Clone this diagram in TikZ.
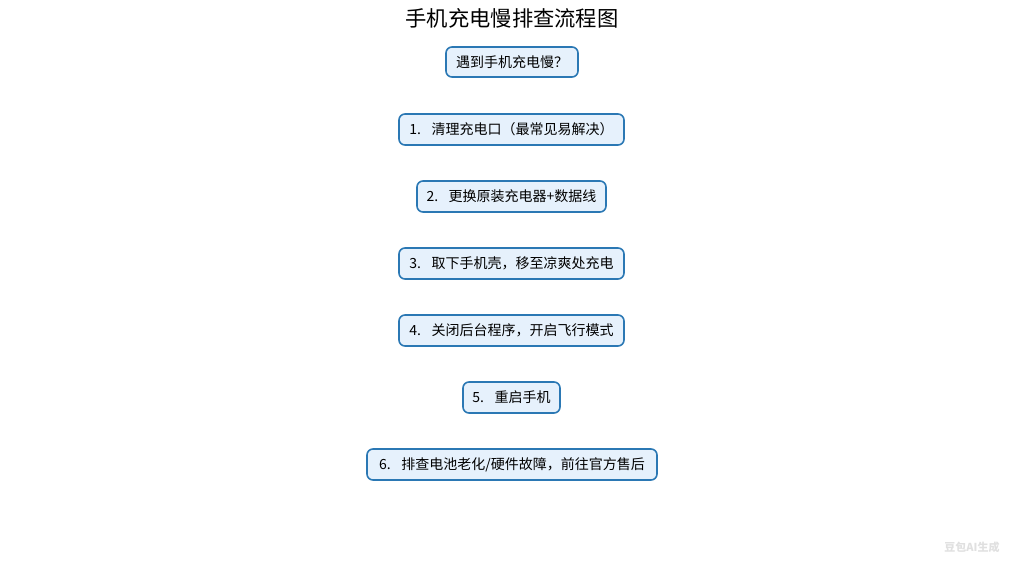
\documentclass[tikz,border=0pt]{standalone}
\usepackage{fontspec}
\setmainfont{Noto Sans CJK SC}
\begin{document}
\begin{tikzpicture}[x=1pt,y=1pt,
  stepbox/.style={draw=boxblue, line width=1.6pt, fill=boxfill, rounded corners=6pt,
    minimum height=31pt, inner sep=0pt, font=\fontsize{14}{16}\selectfont, text=black},
  ttl/.style={font=\fontsize{21.3}{25}\selectfont, text=black}]
\definecolor{boxblue}{HTML}{2B78B4}
\definecolor{boxfill}{HTML}{E6F1FC}
\useasboundingbox (0,0) rectangle (1024,-572);
\node[ttl] (title) at (512,-18) {手机充电慢排查流程图};
\node[stepbox, minimum width=132pt, minimum height=30pt] (start) at (512,-62) {遇到手机充电慢？};
\node[stepbox, minimum width=225pt] (s1) at (511.5,-129.5) {1.\hspace{0.75em}清理充电口（最常见易解决）};
\node[stepbox, minimum width=189pt] (s2) at (511.5,-196.5) {2.\hspace{0.75em}更换原装充电器+数据线};
\node[stepbox, minimum width=225pt] (s3) at (511.5,-263.5) {3.\hspace{0.75em}取下手机壳，移至凉爽处充电};
\node[stepbox, minimum width=225pt] (s4) at (511.5,-330.5) {4.\hspace{0.75em}关闭后台程序，开启飞行模式};
\node[stepbox, minimum width=97pt] (s5) at (511.5,-397.5) {5.\hspace{0.75em}重启手机};
\node[stepbox, minimum width=290pt] (s6) at (512,-464.5) {6.\hspace{0.75em}排查电池老化/硬件故障，前往官方售后};
\node[text=black!12, font=\fontsize{11}{12}\selectfont\bfseries] (wm) at (972,-547) {豆包AI生成};
\end{tikzpicture}
\end{document}
